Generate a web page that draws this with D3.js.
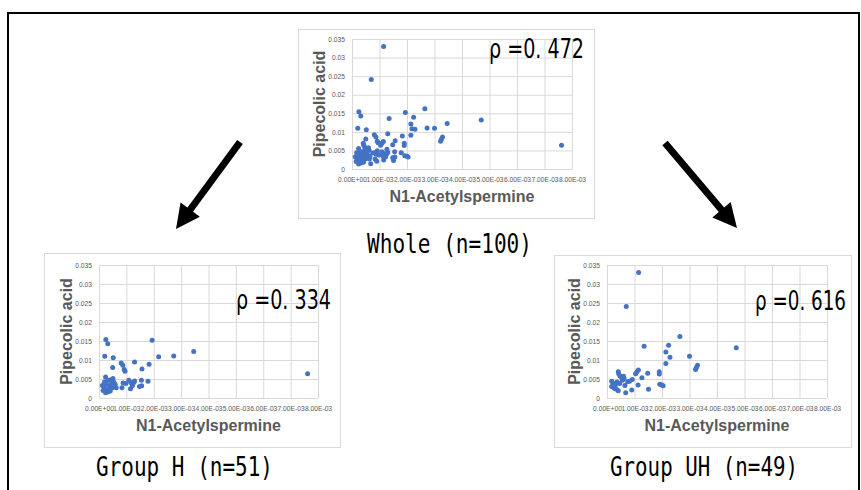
<!DOCTYPE html>
<html>
<head>
<meta charset="utf-8">
<script src="https://cdn.jsdelivr.net/npm/d3@7"></script>
<style>
  html, body { margin: 0; padding: 0; background: #fff; }
  svg { display: block; }
</style>
</head>
<body>
<div id="chart"></div>
<script>
// axis ticks (shared by the three panels)
var xTicks = [0, 0.001, 0.002, 0.003, 0.004, 0.005, 0.006, 0.007, 0.008];
var xTickLabels = ['0.00E+00', '1.00E-03', '2.00E-03', '3.00E-03', '4.00E-03', '5.00E-03', '6.00E-03', '7.00E-03', '8.00E-03'];
var yTicks = [0, 0.005, 0.01, 0.015, 0.02, 0.025, 0.03, 0.035];
var yTickLabels = ['0', '0.005', '0.01', '0.015', '0.02', '0.025', '0.03', '0.035'];

var xTitle = 'N1-Acetylspermine';
var yTitle = 'Pipecolic acid';

// [N1-Acetylspermine, Pipecolic acid]
var groupH = [
  [0.00025, 0.0154], [0.00032, 0.0143], [0.00194, 0.0152], [0.00021, 0.0110],
  [0.00052, 0.0106], [0.00218, 0.01085], [0.00273, 0.01105], [0.00346, 0.01225],
  [0.00081, 0.0092], [0.00087, 0.0086], [0.00050, 0.00805], [0.00092, 0.0075],
  [0.00095, 0.00705], [0.00130, 0.0095], [0.00183, 0.0089], [0.00157, 0.0076],
  [0.00762, 0.0064],
  [0.00024, 0.0055], [0.00033, 0.00465], [0.00043, 0.0048], [0.00051, 0.0051],
  [0.00054, 0.0042], [0.00027, 0.0036], [0.00017, 0.0031], [0.00021, 0.0025],
  [0.00029, 0.0020], [0.00024, 0.00135], [0.00039, 0.0031], [0.00045, 0.0038],
  [0.00059, 0.0036], [0.00063, 0.0027], [0.00037, 0.0024], [0.00015, 0.0020],
  [0.00032, 0.0016], [0.00020, 0.0042], [0.00049, 0.0027], [0.00012, 0.0033],
  [0.00041, 0.00185],
  [0.00088, 0.00395], [0.00084, 0.0027], [0.00109, 0.00465], [0.00116, 0.0041],
  [0.00115, 0.00245], [0.00127, 0.0041], [0.00122, 0.00325], [0.00155, 0.00465],
  [0.00156, 0.00325], [0.00148, 0.00305], [0.00179, 0.0044], [0.00098, 0.0038],
  [0.00130, 0.0045]
];

var groupUH = [
  [0.00115, 0.0330], [0.00070, 0.0241], [0.00265, 0.0162], [0.00135, 0.0136],
  [0.00224, 0.0139], [0.00214, 0.0121], [0.00229, 0.0107], [0.00214, 0.0091],
  [0.00300, 0.0110], [0.00329, 0.0086], [0.00325, 0.0080], [0.00322, 0.0075],
  [0.00470, 0.0132], [0.00114, 0.0074], [0.00109, 0.0069], [0.00104, 0.0064],
  [0.00190, 0.0069], [0.00190, 0.0063], [0.00148, 0.0065], [0.00127, 0.0053],
  [0.00041, 0.0069], [0.00043, 0.0063], [0.00047, 0.0058], [0.00053, 0.0054],
  [0.00062, 0.0051], [0.00056, 0.0047], [0.00092, 0.0049], [0.00082, 0.0044],
  [0.00017, 0.0044], [0.00031, 0.0037], [0.00017, 0.0030], [0.00025, 0.0027],
  [0.00034, 0.0023], [0.00041, 0.0019], [0.00065, 0.0033], [0.00068, 0.0014],
  [0.00090, 0.0021], [0.00113, 0.0034], [0.00151, 0.0023], [0.00192, 0.0036],
  [0.00200, 0.0034], [0.00204, 0.0032], [0.00046, 0.0038], [0.00029, 0.0031],
  [0.00022, 0.0038], [0.00075, 0.0043], [0.00036, 0.0042], [0.00060, 0.0057],
  [0.00028, 0.0025]
];

var wholeGroup = groupH.concat(groupUH);

var captions = ['Whole (n=100)', 'Group H (n=51)', 'Group UH (n=49)'];
var rhoLabels = ['ρ =0. 472', 'ρ =0. 334', 'ρ =0. 616'];

var W = 861, H = 490;
var svg = d3.select('#chart').append('svg').attr('width', W).attr('height', H);

// outer frame
svg.append('rect')
  .attr('x', 8).attr('y', 13).attr('width', 851).attr('height', 500)
  .attr('fill', 'none').attr('stroke', '#000').attr('stroke-width', 2);

var panels = [
  {data: wholeGroup, box: {x: 298, y: 29, w: 296, h: 189}, plot: {x: 352, y: 39, w: 220, h: 130},
   rho: {x: 489, y: 58, w: 95}, caption: {x: 367, y: 253, w: 165}},
  {data: groupH, box: {x: 44, y: 253, w: 296, h: 194}, plot: {x: 99, y: 265, w: 219, h: 133},
   rho: {x: 236, y: 309, w: 95}, caption: {x: 96, y: 476, w: 177}},
  {data: groupUH, box: {x: 554, y: 255, w: 297, h: 192}, plot: {x: 607, y: 265, w: 220, h: 133},
   rho: {x: 755, y: 310, w: 91}, caption: {x: 610, y: 476, w: 188}}
];

panels.forEach(function(p, i) {
  var g = svg.append('g');

  g.append('rect')
    .attr('x', p.box.x + 0.5).attr('y', p.box.y + 0.5)
    .attr('width', p.box.w).attr('height', p.box.h)
    .attr('fill', '#fff').attr('stroke', '#d9d9d9');

  var x = d3.scaleLinear().domain([0, 0.008]).range([p.plot.x, p.plot.x + p.plot.w]);
  var y = d3.scaleLinear().domain([0, 0.035]).range([p.plot.y + p.plot.h, p.plot.y]);

  // x axis + vertical gridlines
  var gx = g.append('g')
    .attr('transform', 'translate(0,' + (p.plot.y + p.plot.h) + ')')
    .call(d3.axisBottom(x).tickValues(xTicks).tickSize(-p.plot.h).tickPadding(8)
      .tickFormat(function(d, k) { return xTickLabels[k]; }));
  gx.select('.domain').remove();
  gx.selectAll('line').attr('stroke', '#d9d9d9');
  gx.selectAll('text')
    .attr('fill', '#595959').style('font-family', '"Liberation Sans", Arial, sans-serif')
    .style('font-size', '6.7px');

  // y axis + horizontal gridlines
  var gy = g.append('g')
    .attr('transform', 'translate(' + p.plot.x + ',0)')
    .call(d3.axisLeft(y).tickValues(yTicks).tickSize(-p.plot.w).tickPadding(7)
      .tickFormat(function(d, k) { return yTickLabels[k]; }));
  gy.select('.domain').remove();
  gy.selectAll('line').attr('stroke', '#d9d9d9');
  gy.selectAll('text')
    .attr('fill', '#595959').style('font-family', '"Liberation Sans", Arial, sans-serif')
    .style('font-size', '6.7px');

  // axis titles
  g.append('text')
    .attr('x', p.plot.x + p.plot.w / 2).attr('y', p.plot.y + p.plot.h + 33)
    .attr('text-anchor', 'middle')
    .attr('fill', '#595959')
    .style('font-family', '"Liberation Sans", Arial, sans-serif')
    .style('font-size', '16px').style('font-weight', 'bold')
    .text(xTitle);

  g.append('text')
    .attr('transform', 'translate(' + (p.plot.x - 27) + ',' + (p.plot.y + p.plot.h / 2) + ') rotate(-90)')
    .attr('text-anchor', 'middle')
    .attr('fill', '#595959')
    .style('font-family', '"Liberation Sans", Arial, sans-serif')
    .style('font-size', '16px').style('font-weight', 'bold')
    .text(yTitle);

  // points
  g.append('g').selectAll('circle')
    .data(p.data)
    .enter()
    .append('circle')
    .attr('cx', function(d) { return x(d[0]); })
    .attr('cy', function(d) { return y(d[1]); })
    .attr('r', 2.5)
    .attr('fill', '#4472c4');

  // correlation label
  g.append('text')
    .attr('x', p.rho.x).attr('y', p.rho.y)
    .attr('textLength', p.rho.w).attr('lengthAdjust', 'spacingAndGlyphs')
    .attr('fill', '#000')
    .style('font-family', '"DejaVu Sans", sans-serif')
    .style('font-size', '27px')
    .text(rhoLabels[i]);

  // caption under the panel
  svg.append('text')
    .attr('x', p.caption.x).attr('y', p.caption.y)
    .attr('textLength', p.caption.w).attr('lengthAdjust', 'spacingAndGlyphs')
    .attr('fill', '#000')
    .style('font-family', '"DejaVu Sans Mono", monospace')
    .style('font-size', '27px')
    .text(captions[i]);
});

// arrows from the whole panel to the two groups
var arrows = [
  {from: [240, 142], to: [176, 229]},
  {from: [665, 143], to: [737, 228]}
];

arrows.forEach(function(a) {
  var dx = a.to[0] - a.from[0], dy = a.to[1] - a.from[1];
  var len = Math.sqrt(dx * dx + dy * dy);
  var ux = dx / len, uy = dy / len, nx = -uy, ny = ux;
  var headLen = 24, headHalf = 12;
  var bx = a.to[0] - ux * headLen, by = a.to[1] - uy * headLen;

  svg.append('line')
    .attr('x1', a.from[0]).attr('y1', a.from[1])
    .attr('x2', bx + ux * 2).attr('y2', by + uy * 2)
    .attr('stroke', '#000').attr('stroke-width', 7);

  svg.append('path')
    .attr('d', d3.line()([
      [a.to[0], a.to[1]],
      [bx + nx * headHalf, by + ny * headHalf],
      [bx - nx * headHalf, by - ny * headHalf]
    ]) + 'Z')
    .attr('fill', '#000');
});
</script>
</body>
</html>
